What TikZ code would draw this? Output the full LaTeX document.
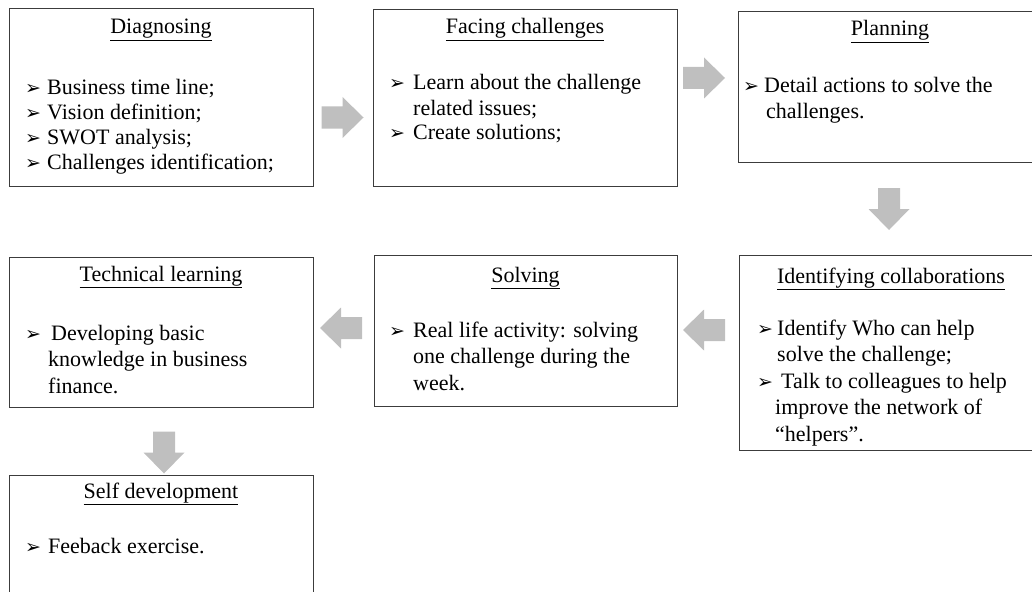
\documentclass[tikz,border=0pt]{standalone}
\usepackage{fontspec}
\setmainfont{Liberation Serif}
\newfontfamily\dvs{DejaVu Sans}
\definecolor{boxgray}{HTML}{3C3C3C}
\definecolor{arrgray}{HTML}{BFBFBF}
\newcommand\bul[1]{\makebox[#1][l]{{\dvs\fontsize{19}{19}\selectfont ➢}}}
\tikzset{
  box/.style={draw=boxgray, line width=0.9pt, fill=white, anchor=north west, inner sep=0pt},
  ttl/.style={anchor=base, inner sep=0pt, font=\rmfamily\fontsize{22}{25}\selectfont},
  bodyA/.style={anchor=base west, inner sep=0pt, font=\rmfamily\fontsize{22}{25}\selectfont},
  bodyB/.style={anchor=base west, inner sep=0pt, font=\rmfamily\fontsize{22}{26.5}\selectfont},
  rarr/.pic={\fill[arrgray] (-21,-11) -- (0,-11) -- (0,-20.5) -- (21,0) -- (0,20.5) -- (0,11) -- (-21,11) -- cycle;},
  larr/.pic={\fill[arrgray] (21,-11) -- (0,-11) -- (0,-20.5) -- (-21,0) -- (0,20.5) -- (0,11) -- (21,11) -- cycle;},
  darr/.pic={\fill[arrgray] (-11,-21) -- (-11,0) -- (-20.5,0) -- (0,21) -- (20.5,0) -- (11,0) -- (11,-21) -- cycle;}
}
\begin{document}
\begin{tikzpicture}[x=1pt,y=-1pt]
\useasboundingbox (0,0) rectangle (1032,591);
\begin{scope}
\clip (0,0) rectangle (1032,591);
% ---- row 1
\node[box, minimum width=304pt, minimum height=178pt] (b1) at (9,8) {};
\node[ttl] (t1) at (161,34) {\underline{Diagnosing}};
\node[bodyA] (l1) at (25,95) {\begin{tabular}[t]{@{}l@{}}
\bul{22pt}Business time line;\\
\bul{22pt}Vision definition;\\
\bul{22pt}SWOT analysis;\\
\bul{22pt}Challenges identification;
\end{tabular}};

\node[box, minimum width=304pt, minimum height=177pt] (b2) at (373,9) {};
\node[ttl] (t2) at (525,34) {\underline{Facing challenges}};
\node[bodyA] (l2) at (389,90) {\begin{tabular}[t]{@{}l@{}}
\bul{24pt}Learn about the challenge\\
\hspace*{24pt}related issues;\\
\bul{24pt}Create solutions;
\end{tabular}};

\node[box, minimum width=304pt, minimum height=151pt] (b3) at (738,11) {};
\node[ttl] (t3) at (890,36) {\underline{Planning}};
\node[bodyA] (l3) at (743,93) {\begin{tabular}[t]{@{}l@{}}
\bul{21pt}Detail actions to solve the\\
\hspace*{23pt}challenges.
\end{tabular}};

% ---- row 2
\node[box, minimum width=304pt, minimum height=150pt] (b4) at (9,257) {};
\node[ttl] (t4) at (161,281) {\underline{Technical learning}};
\node[bodyB] (l4) at (25,340) {\begin{tabular}[t]{@{}l@{}}
\bul{23pt}\hspace*{3pt}Developing basic\\
\hspace*{23pt}knowledge in business\\
\hspace*{23pt}finance.
\end{tabular}};

\node[box, minimum width=303pt, minimum height=151pt] (b5) at (374,255) {};
\node[ttl] (t5) at (525.5,282) {\underline{Solving}};
\node[bodyB] (l5) at (389,337) {\begin{tabular}[t]{@{}l@{}}
\bul{24pt}Real life activity: solving\\
\hspace*{24pt}one challenge during the\\
\hspace*{24pt}week.
\end{tabular}};

\node[box, minimum width=304pt, minimum height=195pt] (b6) at (739,255) {};
\node[ttl] (t6) at (891,283) {\underline{Identifying collaborations}};
\node[bodyB] (l6) at (757,335) {\begin{tabular}[t]{@{}l@{}}
\bul{20pt}Identify Who can help\\
\hspace*{20pt}solve the challenge;\\
\bul{20pt}\hspace*{4pt}Talk to colleagues to help\\
\hspace*{18pt}improve the network of\\
\hspace*{18pt}“helpers”.
\end{tabular}};

% ---- row 3
\node[box, minimum width=304pt, minimum height=150pt] (b7) at (9,475) {};
\node[ttl] (t7) at (161,498) {\underline{Self development}};
\node[bodyB] (l7) at (25,553) {\begin{tabular}[t]{@{}l@{}}
\bul{23pt}Feeback exercise.
\end{tabular}};

% ---- block arrows
\pic at (342.5,117.5) {rarr};
\pic at (704,78) {rarr};
\pic at (889,209) {darr};
\pic at (704,330) {larr};
\pic at (341,328) {larr};
\pic at (164,452.5) {darr};
\end{scope}
\end{tikzpicture}
\end{document}
